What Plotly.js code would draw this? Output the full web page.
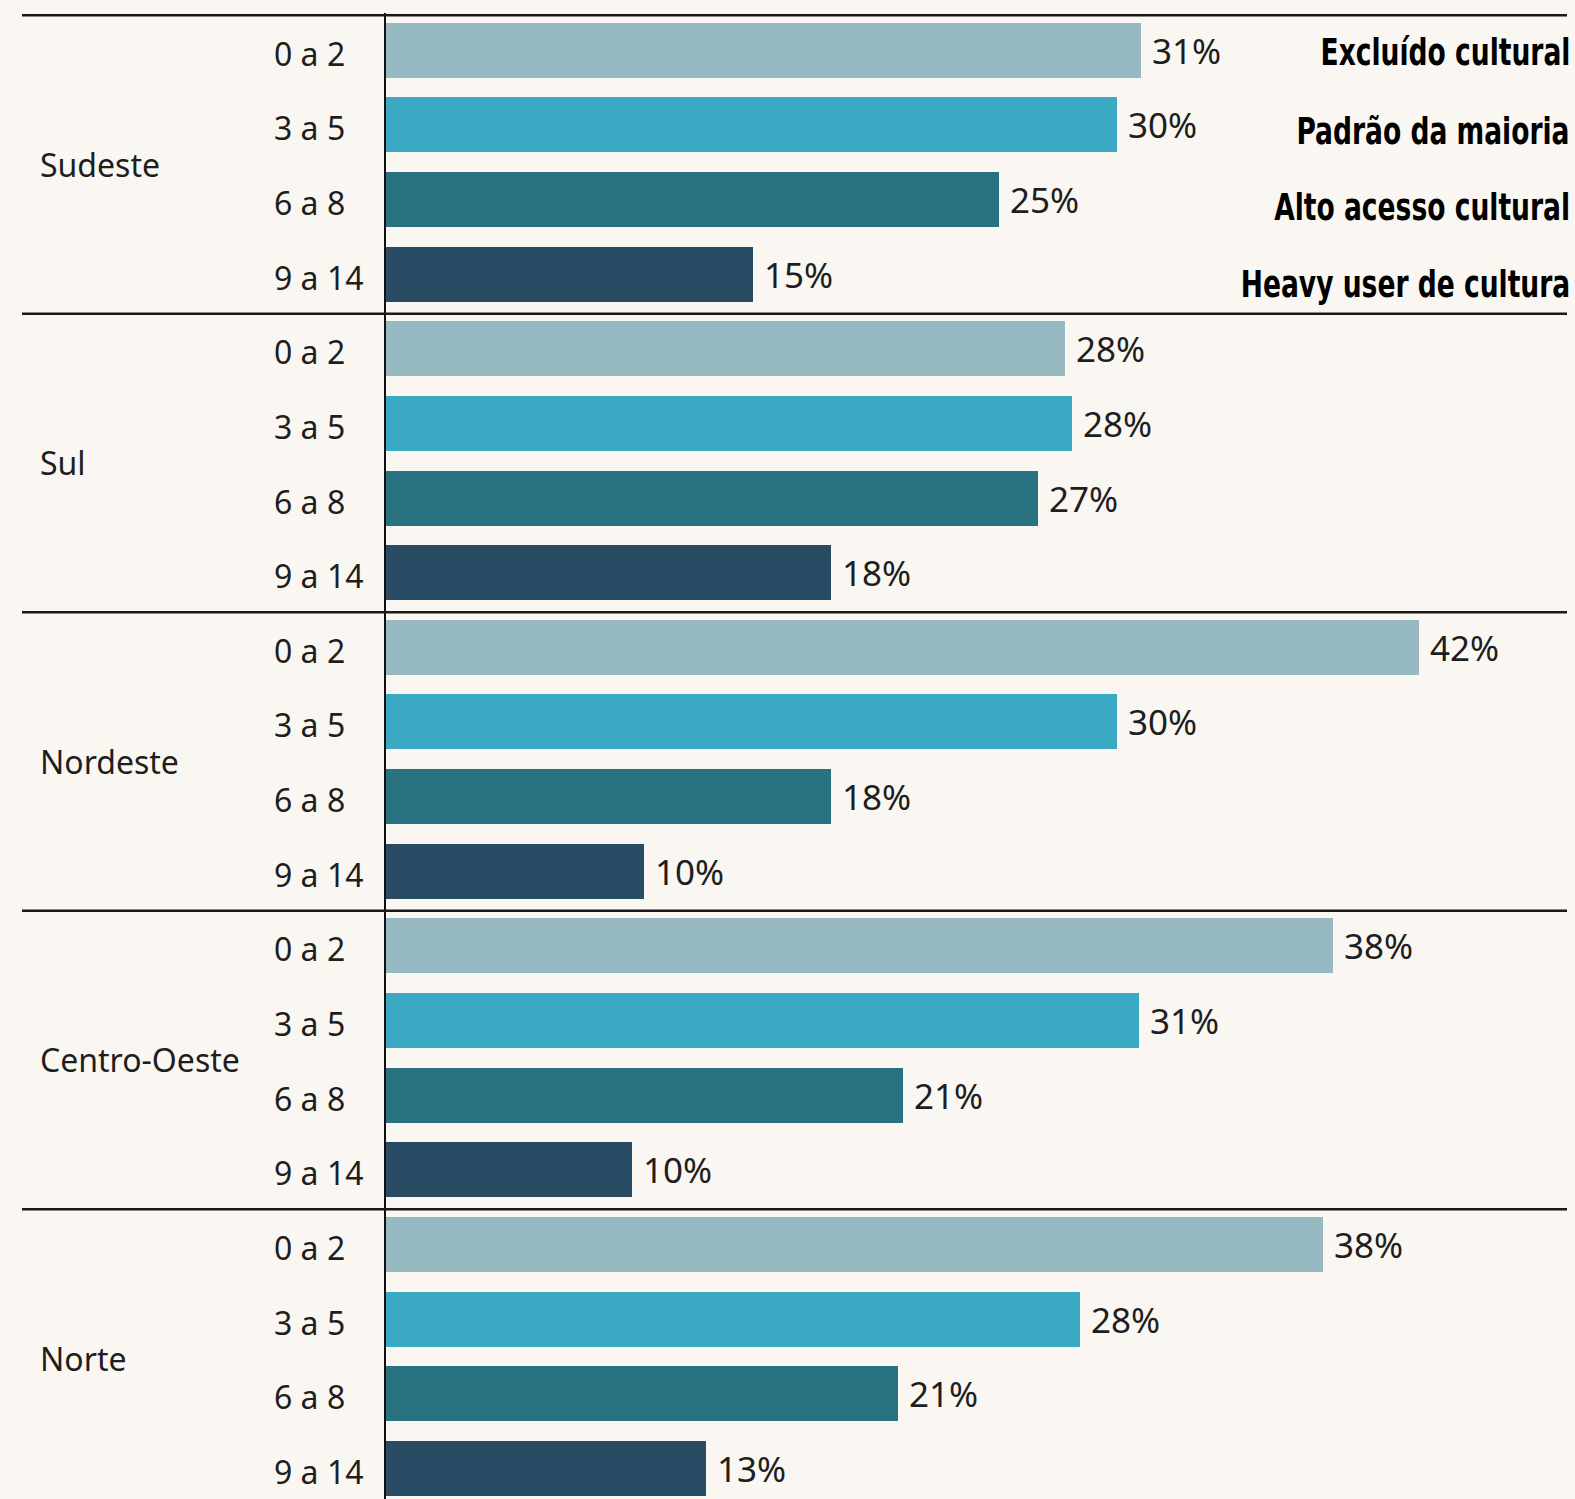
<!DOCTYPE html>
<html>
<head>
<meta charset="utf-8">
<script src="https://cdn.plot.ly/plotly-3.0.1.min.js"></script>
<style>
  html, body { margin: 0; padding: 0; background: #faf7f2; }
  #chart { width: 1575px; height: 1499px; }
</style>
</head>
<body>
<div id="chart"></div>
<script>
// ---- Data ----
const regions = ["Sudeste", "Sul", "Nordeste", "Centro-Oeste", "Norte"];
const ages = ["0 a 2", "3 a 5", "6 a 8", "9 a 14"];
const seriesNames = ["Excluído cultural", "Padrão da maioria", "Alto acesso cultural", "Heavy user de cultura"];

// share (%) per region, in order of ages
const sudeste     = [30.7, 29.7, 24.9, 14.9];
const sul         = [27.6, 27.9, 26.5, 18.1];
const nordeste    = [42.0, 29.7, 18.1, 10.5];
const centroOeste = [38.5, 30.6, 21.0, 10.0];
const norte       = [38.1, 28.2, 20.8, 13.0];

const sudesteLabels     = ["31%", "30%", "25%", "15%"];
const sulLabels         = ["28%", "28%", "27%", "18%"];
const nordesteLabels    = ["42%", "30%", "18%", "10%"];
const centroOesteLabels = ["38%", "31%", "21%", "10%"];
const norteLabels       = ["38%", "28%", "21%", "13%"];

// ---- Build ----
const valuesByRegion = [sudeste, sul, nordeste, centroOeste, norte];
const labelsByRegion = [sudesteLabels, sulLabels, nordesteLabels, centroOesteLabels, norteLabels];
const colors = ["#97b9c1", "#3ba8c4", "#287282", "#294c65"];

const W = 1575, H = 1499;
const ML = 386, MR = 0, MT = 13, MB = 0;
const plotW = W - ML - MR;
const pxPerUnit = 24.6;       // pixels per percentage point
const slotPx = 74.63;         // pixels per bar slot
const nGroups = regions.length, nAges = ages.length;
const yBottom = -0.5 + (H - MT - MB) / slotPx;

const traces = ages.map((age, k) => {
  const x = [], y = [], custom = [];
  valuesByRegion.forEach((vals, g) => {
    x.push(vals[k]);
    y.push(g * nAges + k);
    custom.push(regions[g] + " – " + age);
  });
  return {
    type: "bar",
    orientation: "h",
    name: seriesNames[k],
    x: x, y: y,
    customdata: custom,
    width: 0.737,
    marker: { color: colors[k], line: { width: 0 } },
    hovertemplate: "%{customdata}: %{x:.1f}%<extra>" + seriesNames[k] + "</extra>",
    showlegend: false
  };
});

const annotations = [];
const shapes = [];
const pxToPaperX = px => (px - ML) / plotW;
const pxToY = py => (py - MT) / slotPx - 0.5;

const tickFont = { family: "Noto Sans, Open Sans, sans-serif", size: 32, color: "#1e1e1e" };
const valFont = { family: "Noto Sans, Open Sans, sans-serif", size: 35, color: "#1e1e1e" };

valuesByRegion.forEach((vals, g) => {
  annotations.push({
    xref: "paper", yref: "y", x: pxToPaperX(38), y: g * nAges + 1.5,
    xanchor: "left", yanchor: "middle", yshift: -2,
    text: regions[g], showarrow: false, font: tickFont
  });
  vals.forEach((v, k) => {
    annotations.push({
      xref: "paper", yref: "y", x: pxToPaperX(272), y: g * nAges + k,
      xanchor: "left", yanchor: "middle", yshift: -3,
      text: ages[k], showarrow: false, font: tickFont
    });
    annotations.push({
      xref: "x", yref: "y", x: v, y: g * nAges + k,
      xanchor: "left", yanchor: "middle", xshift: 9,
      text: labelsByRegion[g][k], showarrow: false, font: valFont
    });
  });
  shapes.push({
    type: "line", xref: "paper", yref: "y",
    x0: pxToPaperX(22), x1: pxToPaperX(1567),
    y0: g * nAges - 0.5 + 0.03, y1: g * nAges - 0.5 + 0.03,
    line: { color: "#1a1a1a", width: 2.5 }
  });
});

// legend-like labels at right
const legendFamily = "Liberation Sans Narrow, Arial Narrow, DejaVu Sans Condensed, Roboto Condensed, Noto Sans, sans-serif";
const legendPx = [52, 131.5, 207, 284];
const legendStart = annotations.length;
seriesNames.forEach((s, k) => {
  annotations.push({
    xref: "paper", yref: "y", x: pxToPaperX(1572), y: pxToY(legendPx[k]),
    xanchor: "right", yanchor: "middle",
    text: "<b>" + s + "</b>", showarrow: false,
    font: { family: legendFamily, size: 37, color: "#000000" }
  });
});

const layout = {
  width: W, height: H,
  margin: { l: ML, r: MR, t: MT, b: MB, pad: 0 },
  paper_bgcolor: "#faf7f2",
  plot_bgcolor: "#faf7f2",
  showlegend: false,
  bargap: 0,
  xaxis: {
    range: [0, plotW / pxPerUnit],
    showgrid: false, zeroline: false, showline: false,
    showticklabels: false, ticks: "", fixedrange: true
  },
  yaxis: {
    range: [yBottom, -0.5],
    showgrid: false, zeroline: false,
    showline: true, linecolor: "#111111", linewidth: 1.5,
    layer: "below traces",
    showticklabels: false, ticks: "", fixedrange: true
  },
  shapes: shapes,
  annotations: annotations
};

Plotly.newPlot("chart", traces, layout, { displayModeBar: false, responsive: false }).then(gd => {
  // condense the bold legend labels (narrow typeface look), keeping right edge fixed
  const targetFirstWidth = 250;
  const nodes = gd.querySelectorAll(".annotation");
  const legendTexts = [];
  nodes.forEach(n => {
    const idx = +n.getAttribute("data-index");
    if (idx >= legendStart) {
      const t = n.querySelector("text.annotation-text");
      if (t) { t.style.fontStretch = "condensed"; legendTexts.push(t); }
    }
  });
  if (!legendTexts.length) return;
  const w0 = legendTexts[0].getBBox().width;
  const f = Math.min(1, targetFirstWidth / w0);
  legendTexts.forEach(t => {
    const bb = t.getBBox();
    const right = bb.x + bb.width;
    t.setAttribute("transform", `translate(${right},0) scale(${f},1) translate(${-right},0)`);
  });
});
</script>
</body>
</html>
